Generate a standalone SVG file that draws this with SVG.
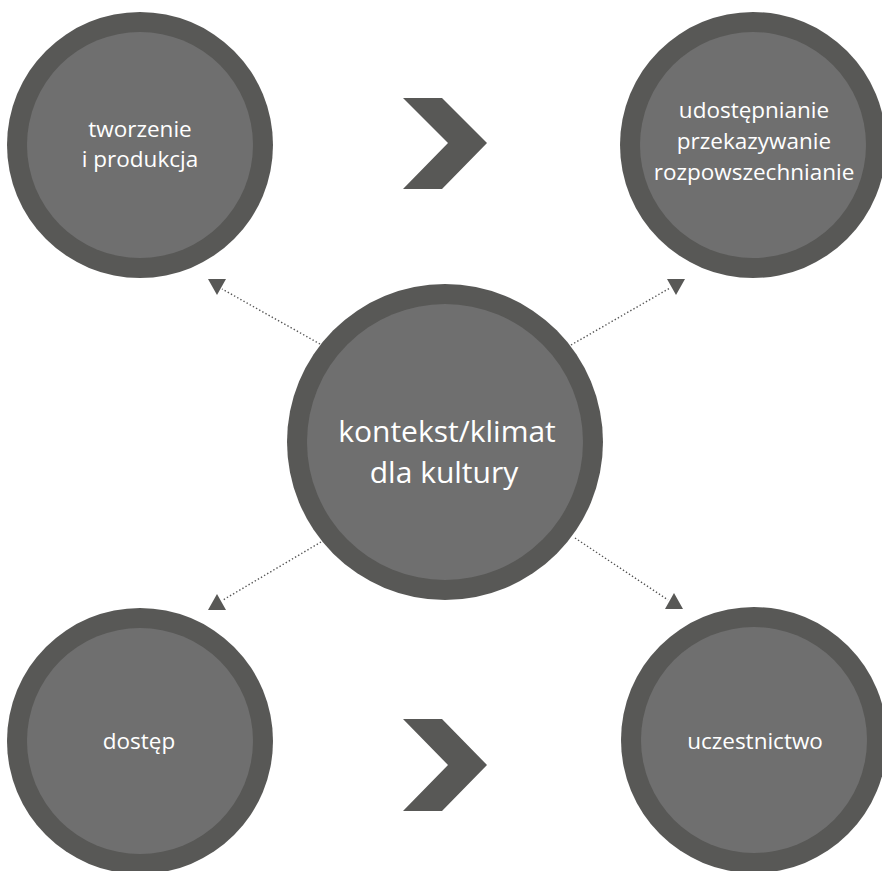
<svg xmlns="http://www.w3.org/2000/svg" width="882" height="871" viewBox="0 0 882 871">
  <style>
    .ring { fill: #585856; }
    .core { fill: #6f6f6f; }
    .lbl { fill: #ffffff; font-family: "Open Sans", "Liberation Sans", sans-serif; font-size: 22.5px; text-anchor: middle; }
    .big { font-size: 30px; }
    .dot { stroke: #555555; stroke-width: 1.4; stroke-dasharray: 1.4 2.2; fill: none; }
    .head { fill: #585856; }
    .chev { fill: #585856; }
  </style>
  <rect width="882" height="871" fill="#ffffff"/>

  <g id="connectors">
    <line class="dot" x1="320" y1="344" x2="222" y2="289"/>
    <polygon class="head" points="208,279 226,279 217,295"/>
    <line class="dot" x1="571" y1="345" x2="670" y2="288"/>
    <polygon class="head" points="667,279 685,279 676,295"/>
    <line class="dot" x1="321" y1="542" x2="223" y2="600"/>
    <polygon class="head" points="208,610 226,610 217,594"/>
    <line class="dot" x1="575" y1="538" x2="668" y2="600"/>
    <polygon class="head" points="665,609 683,609 674,593"/>
  </g>

  <g id="chevron-top">
    <polygon class="chev" points="403,98 442,98 487,143 442,189 403,189 448,143"/>
  </g>
  <g id="chevron-bottom">
    <polygon class="chev" points="403,719 442,719 487,765 442,811 403,811 448,765"/>
  </g>

  <g id="node-tworzenie">
    <circle class="ring" cx="140" cy="145" r="133"/>
    <circle class="core" cx="140" cy="145" r="113"/>
    <text class="lbl" x="140" y="137">tworzenie</text>
    <text class="lbl" x="140" y="167">i produkcja</text>
  </g>

  <g id="node-udostepnianie">
    <circle class="ring" cx="753" cy="145" r="133"/>
    <circle class="core" cx="753" cy="145" r="113"/>
    <text class="lbl" x="754" y="118">udostępnianie</text>
    <text class="lbl" x="754" y="149">przekazywanie</text>
    <text class="lbl" x="754" y="180">rozpowszechnianie</text>
  </g>

  <g id="node-kontekst">
    <circle class="ring" cx="445" cy="442" r="158"/>
    <circle class="core" cx="445" cy="442" r="138"/>
    <text class="lbl big" x="447" y="442">kontekst/klimat</text>
    <text class="lbl big" x="444" y="483">dla kultury</text>
  </g>

  <g id="node-dostep">
    <circle class="ring" cx="140" cy="741" r="133"/>
    <circle class="core" cx="140" cy="741" r="113"/>
    <text class="lbl" x="139" y="749">dostęp</text>
  </g>

  <g id="node-uczestnictwo">
    <circle class="ring" cx="754" cy="740" r="133"/>
    <circle class="core" cx="754" cy="740" r="113"/>
    <text class="lbl" x="755" y="749">uczestnictwo</text>
  </g>
</svg>
